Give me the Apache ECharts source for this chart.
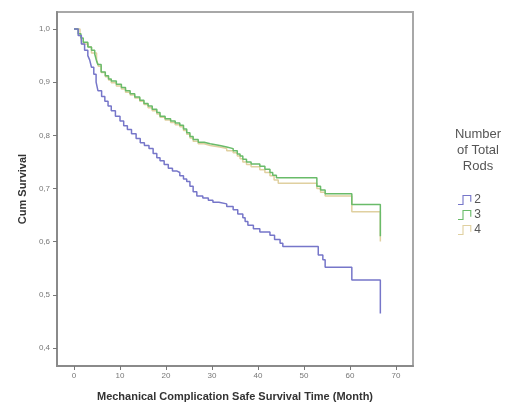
<!DOCTYPE html>
<html>
<head>
<meta charset="utf-8">
<script src="https://cdn.jsdelivr.net/npm/echarts@6/dist/echarts.min.js"></script>
<style>html,body{margin:0;padding:0;background:#fff;}#c{width:522px;height:407px;}</style>
</head>
<body>
<div id="c"></div>
<script>
// Group "2"
var t2 = [0,0.9,1.6,2.3,3.0,3.4,3.8,4.3,4.8,5.2,6.0,6.7,7.4,8.1,9.0,10.0,10.8,11.6,12.5,13.5,14.4,15.3,16.3,17.2,18.0,18.7,19.6,20.5,21.4,22.3,23.0,23.8,24.5,25.2,25.9,26.7,28.0,29.2,30.2,31.5,33.2,34.6,35.6,36.7,37.2,37.8,39.0,40.4,42.6,43.6,44.8,45.4,53.1,54.1,54.6,60.4,66.6];
var s2 = [1.0,0.988,0.972,0.960,0.950,0.942,0.928,0.915,0.900,0.884,0.873,0.864,0.855,0.846,0.836,0.827,0.818,0.811,0.803,0.794,0.786,0.781,0.775,0.766,0.758,0.752,0.745,0.738,0.733,0.730,0.724,0.718,0.713,0.704,0.694,0.686,0.682,0.678,0.674,0.671,0.666,0.660,0.652,0.645,0.638,0.631,0.624,0.618,0.612,0.604,0.597,0.591,0.575,0.566,0.552,0.528,0.465];
// Group "3"
var t3 = [0,0.9,1.5,2.0,3.0,3.8,4.5,4.9,5.2,5.9,6.8,7.5,8.1,9.2,10.3,11.2,12.2,13.2,14.3,15.2,16.1,17.0,18.0,18.7,19.8,21.0,22.0,23.0,23.8,24.5,25.2,25.9,27.0,28.3,29.6,31.7,33.2,34.6,35.5,36.1,36.7,37.5,38.5,40.4,41.5,42.6,43.2,44.0,52.8,53.6,54.6,60.4,66.6];
var s3 = [1.0,0.991,0.983,0.975,0.966,0.960,0.953,0.940,0.933,0.919,0.912,0.906,0.902,0.896,0.890,0.884,0.878,0.872,0.866,0.860,0.855,0.849,0.843,0.836,0.831,0.827,0.823,0.819,0.812,0.805,0.798,0.792,0.787,0.784,0.781,0.778,0.775,0.771,0.765,0.761,0.755,0.750,0.746,0.742,0.736,0.730,0.725,0.720,0.704,0.697,0.690,0.670,0.610];
// Group "4"
var t4 = [0,1.3,1.7,3.1,3.8,4.9,5.3,5.9,6.8,7.5,8.1,9.2,10.3,11.2,12.2,13.2,14.3,15.2,16.1,17.0,18.0,18.7,19.8,21.0,22.0,23.0,23.8,24.5,25.2,25.9,27.0,28.3,29.6,31.7,33.2,34.6,35.5,36.1,36.7,37.5,38.5,40.4,41.5,42.6,43.5,44.4,52.8,53.6,54.6,60.4,66.6];
var s4 = [1.0,0.992,0.972,0.966,0.955,0.943,0.930,0.918,0.910,0.904,0.899,0.893,0.887,0.881,0.876,0.870,0.864,0.858,0.852,0.846,0.840,0.834,0.829,0.824,0.820,0.816,0.809,0.802,0.795,0.789,0.784,0.781,0.778,0.775,0.771,0.767,0.761,0.756,0.750,0.745,0.741,0.735,0.730,0.724,0.716,0.710,0.700,0.693,0.686,0.656,0.600];

var groups = ['2','3','4'];
var xTicks = [0,10,20,30,40,50,60,70];
var yTicks = [0.4,0.5,0.6,0.7,0.8,0.9,1.0];
var yTickLabels = ['0,4','0,5','0,6','0,7','0,8','0,9','1,0'];
var legendTitle = ['Number','of Total','Rods'];

function pts(t, s){ return t.map(function(v,i){ return [v, s[i]]; }); }
var colors = ['#7676c9','#69bb69','#e0d0a0'];
var datasets = [pts(t2,s2), pts(t3,s3), pts(t4,s4)];
var stepIcon = 'path://M0,9 L5,9 L5,1 L11,1 L11,6 L12,6 L12,0 L4,0 L4,8 L0,8 Z';
var FONT = 'Liberation Sans, Arial, sans-serif';

var chart = echarts.init(document.getElementById('c'), null, {renderer:'canvas'});
chart.setOption({
  animation: false,
  textStyle: {fontFamily: FONT},
  grid: {left: 57, right: 109, top: 12, bottom: 41, show: true, borderColor: '#a8a8a8', borderWidth: 2},
  xAxis: {
    type: 'value', min: -3.7, max: 73.7,
    name: 'Mechanical Complication Safe Survival Time (Month)',
    nameLocation: 'middle', nameGap: 25,
    nameTextStyle: {fontWeight: 'bold', fontSize: 11, color: '#333'},
    axisLine: {show: true, onZero: false, lineStyle: {color: '#8a8a8a', width: 2}},
    axisTick: {show: true, length: 4, customValues: xTicks, lineStyle: {color: '#777'}},
    axisLabel: {customValues: xTicks, fontSize: 8, color: '#777', margin: 6},
    splitLine: {show: false}
  },
  yAxis: {
    type: 'value', min: 0.366, max: 1.032,
    name: 'Cum Survival', nameLocation: 'middle', nameGap: 29, nameRotate: 90,
    nameTextStyle: {fontWeight: 'bold', fontSize: 11, color: '#333'},
    axisLine: {show: true, onZero: false, lineStyle: {color: '#8a8a8a', width: 2}},
    axisTick: {show: true, length: 4, customValues: yTicks, lineStyle: {color: '#777'}},
    axisLabel: {customValues: yTicks, fontSize: 8, color: '#777', margin: 7,
      formatter: function(v){ var i = yTicks.findIndex(function(x){return Math.abs(x-v)<1e-6;}); return i>=0 ? yTickLabels[i] : ''; }},
    splitLine: {show: false}
  },
  legend: {
    orient: 'vertical', left: 453, top: 189, itemGap: 3, itemWidth: 15, itemHeight: 10,
    icon: stepIcon,
    textStyle: {fontSize: 12, color: '#555', padding: [0,0,0,-3]},
    data: groups
  },
  graphic: legendTitle.map(function(s, i){
    return {type: 'text', x: 478, y: 128 + i*16,
      style: {text: s, align: 'center', textAlign: 'center', verticalAlign: 'top', fontSize: 13, fill: '#555', fontFamily: FONT}};
  }),
  series: groups.map(function(g,i){
    return {
      name: g, type: 'line', step: 'end', showSymbol: false,
      data: datasets[i], color: colors[i],
      lineStyle: {width: 1.5, color: colors[i]}, z: 3 - i
    };
  })
});
</script>
</body>
</html>
